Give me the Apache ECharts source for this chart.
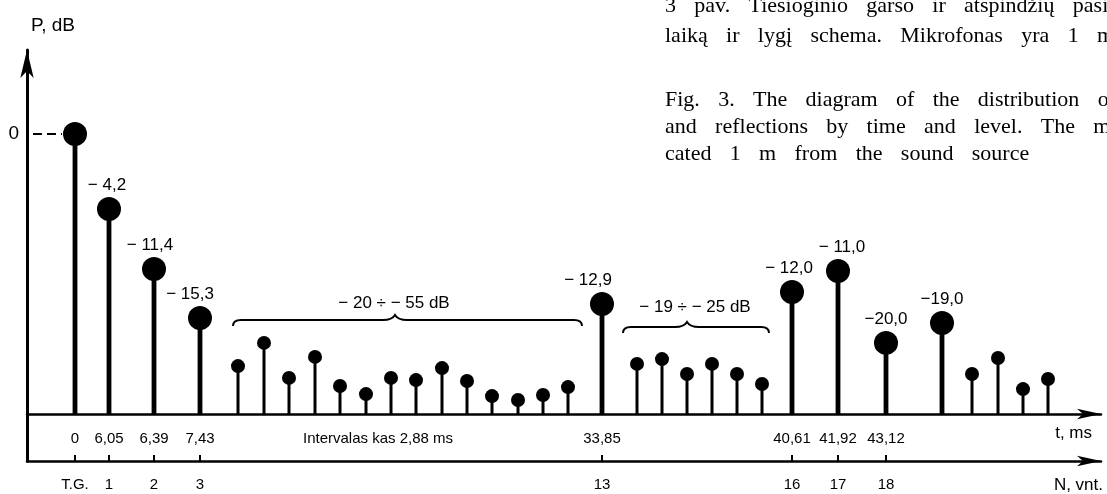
<!DOCTYPE html>
<html><head><meta charset="utf-8">
<script src="https://cdn.jsdelivr.net/npm/echarts@6/dist/echarts.min.js"></script>
<style>html,body{margin:0;padding:0;background:#fff}#c{width:1107px;height:494px}</style>
</head><body><div id="c"></div>
<script>
// Schematic position of each arrival along the (non-linear) time axis, as drawn
const mainPos    = [48, 82, 127, 173, 575, 765, 811, 859, 915];
// Drawn stem height, relative units (direct sound 0 dB = 100)
const mainHeight = [100, 73.2, 51.8, 34.3, 39.3, 43.6, 51.1, 25.4, 32.5];
const mainLabels = ['', '− 4,2', '− 11,4', '− 15,3', '− 12,9', '− 12,0', '− 11,0', '−20,0', '−19,0'];

const smallPos    = [211, 237, 262, 288, 313, 339, 364, 389, 415, 440, 465, 491, 516, 541,
                     610, 635, 660, 685, 710, 735, 945, 971, 996, 1021];
const smallHeight = [17.1, 25.4, 12.9, 20.4, 10.0, 7.1, 12.9, 12.1, 16.4, 11.8, 6.4, 5.0, 6.8, 9.6,
                     17.9, 19.6, 14.3, 17.9, 14.3, 10.7, 14.3, 20.0, 8.9, 12.5];

// time axis labels (ms)
const tTickPos    = [48, 82, 127, 173, 351, 575, 765, 811, 859];
const tTickLabels = ['0', '6,05', '6,39', '7,43', 'Intervalas kas 2,88 ms', '33,85', '40,61', '41,92', '43,12'];
// reflection number axis
const nTickPos    = [48, 82, 127, 173, 575, 765, 811, 859];
const nTickLabels = ['T.G.', '1', '2', '3', '13', '16', '17', '18'];
// level axis
const yTickPos    = [100];
const yTickLabels = ['0'];

// braces: [from, to, peak, level, labelPos, labelLevel]
const braces      = [[206, 555, 368, 33.6, 367, 39.6], [596, 742, 660, 31.1, 668, 38.2]];
const braceLabels = ['− 20 ÷ − 55 dB', '− 19 ÷ − 25 dB'];

const captionLines = [
  '3 pav. Tiesioginio garso ir atspindžių pasiskirstymo',
  'laiką ir lygį schema. Mikrofonas yra 1 m nuo',
  'Fig. 3. The diagram of the distribution of direct sound',
  'and reflections by time and level. The microphone is lo-',
  'cated 1 m from the sound source'
];
const captionY = [6, 36, 100, 127, 154];

const SANS = "'Liberation Sans', Arial, sans-serif";
const XMAX = 1074;

const chart = echarts.init(document.getElementById('c'), null, {renderer: 'canvas'});

function lookup(pos, labels) {
  return v => { const i = pos.indexOf(Math.round(v)); return i >= 0 ? labels[i] : ''; };
}
function stem(width) {
  return (params, api) => {
    const top = api.coord([api.value(0), api.value(1)]);
    const base = api.coord([api.value(0), 0]);
    return {type: 'line', shape: {x1: base[0], y1: base[1], x2: top[0], y2: top[1]},
            style: {stroke: '#000', lineWidth: width}};
  };
}
const labelNudge = [0, -2, -4, -10, -14, -3, 4, 0, 0];

chart.setOption({
  animation: false,
  backgroundColor: '#fff',
  grid: [
    {left: 27, right: 6, top: 50, bottom: 80, containLabel: false},
    {left: 27, right: 6, top: 414, bottom: 30, containLabel: false}
  ],
  xAxis: [{
    gridIndex: 0, type: 'value', min: 0, max: XMAX, position: 'bottom',
    axisLine: {onZero: false, symbol: ['none', 'arrow'], symbolSize: [8, 24],
               lineStyle: {color: '#000', width: 2.5}},
    axisTick: {show: false}, splitLine: {show: false},
    axisLabel: {customValues: tTickPos, formatter: lookup(tTickPos, tTickLabels),
                color: '#000', fontSize: 15, fontFamily: SANS, margin: 17},
    name: 't, ms', nameLocation: 'end', nameGap: -9,
    nameTextStyle: {color: '#000', fontSize: 17, fontFamily: SANS, align: 'right',
                    verticalAlign: 'top', padding: [11, 0, 0, 0]}
  }, {
    gridIndex: 1, type: 'value', min: 0, max: XMAX, position: 'bottom',
    axisLine: {onZero: false, symbol: ['none', 'arrow'], symbolSize: [8, 24],
               lineStyle: {color: '#000', width: 2.5}},
    axisTick: {show: true, inside: true, length: 6, customValues: nTickPos,
               lineStyle: {color: '#000', width: 2}},
    splitLine: {show: false},
    axisLabel: {customValues: nTickPos, formatter: lookup(nTickPos, nTickLabels),
                color: '#000', fontSize: 15, fontFamily: SANS, margin: 16},
    name: 'N, vnt.', nameLocation: 'end', nameGap: 2,
    nameTextStyle: {color: '#000', fontSize: 17, fontFamily: SANS, align: 'right',
                    verticalAlign: 'top', padding: [16, 0, 0, 0]}
  }],
  yAxis: [{
    gridIndex: 0, type: 'value', min: 0, max: 130,
    axisLine: {show: true, onZero: false, symbol: ['none', 'arrow'], symbolSize: [10, 28],
               lineStyle: {color: '#000', width: 3}},
    axisTick: {show: false}, splitLine: {show: false},
    axisLabel: {customValues: yTickPos, formatter: lookup(yTickPos, yTickLabels),
                color: '#000', fontSize: 19, fontFamily: SANS, margin: 8},
    name: 'P, dB', nameLocation: 'end', nameGap: 24,
    nameTextStyle: {color: '#000', fontSize: 19, fontFamily: SANS, align: 'left',
                    verticalAlign: 'middle', padding: [0, 0, 0, 4]}
  }, {
    gridIndex: 1, type: 'value', min: 0, max: 1,
    axisLine: {show: true, onZero: false, lineStyle: {color: '#000', width: 3}},
    axisTick: {show: false}, splitLine: {show: false}, axisLabel: {show: false}
  }],
  series: [
    {type: 'line', xAxisIndex: 0, yAxisIndex: 0, data: [[6, 100], [35, 100]], symbol: 'none', silent: true,
     lineStyle: {color: '#000', width: 2, type: [9, 5]}},
    {type: 'custom', xAxisIndex: 0, yAxisIndex: 0, renderItem: stem(4.8), silent: true,
     data: mainPos.map((x, i) => [x, mainHeight[i]])},
    {type: 'custom', xAxisIndex: 0, yAxisIndex: 0, renderItem: stem(3), silent: true,
     data: smallPos.map((x, i) => [x, smallHeight[i]])},
    {type: 'scatter', xAxisIndex: 0, yAxisIndex: 0, symbolSize: 14, silent: true, clip: false,
     itemStyle: {color: '#000', opacity: 1},
     data: smallPos.map((x, i) => [x, smallHeight[i]])},
    {type: 'scatter', xAxisIndex: 0, yAxisIndex: 0, symbolSize: 24, silent: true, clip: false,
     itemStyle: {color: '#000', opacity: 1},
     label: {show: true, position: 'top', distance: 3, color: '#000', fontSize: 17, fontFamily: SANS,
             formatter: p => mainLabels[p.dataIndex]},
     data: mainPos.map((x, i) => ({value: [x, mainHeight[i]], label: {offset: [labelNudge[i], 0]}}))},
    {type: 'custom', xAxisIndex: 0, yAxisIndex: 0, silent: true, data: braces,
     renderItem: (params, api) => {
       const l = api.coord([api.value(0), api.value(3)]);
       const r = api.coord([api.value(1), api.value(3)]);
       const p = api.coord([api.value(2), api.value(3)]);
       const t = api.coord([api.value(4), api.value(5)]);
       const y = l[1];
       const d = `M${l[0]},${y + 6} Q${l[0]},${y} ${l[0] + 8},${y} L${p[0] - 12},${y} ` +
                 `Q${p[0] - 3},${y} ${p[0]},${y - 5} Q${p[0] + 3},${y} ${p[0] + 12},${y} ` +
                 `L${r[0] - 8},${y} Q${r[0]},${y} ${r[0]},${y + 6}`;
       return {type: 'group', children: [
         {type: 'path', shape: {pathData: d}, style: {fill: 'none', stroke: '#000', lineWidth: 2}},
         {type: 'text', x: t[0], y: t[1], style: {text: braceLabels[params.dataIndex], fill: '#000',
           fontSize: 17, fontFamily: SANS, align: 'center', verticalAlign: 'middle'}}
       ]};
     }}
  ],
  graphic: captionLines.map((s, i) => ({
    type: 'text', x: 665, y: captionY[i], silent: true,
    style: {text: s.split(' ').join('   \u200A'), fill: '#000', fontSize: 22,
            fontFamily: "'Liberation Serif', 'Times New Roman', serif",
            align: 'left', verticalAlign: 'middle'}
  }))
});
</script></body></html>
